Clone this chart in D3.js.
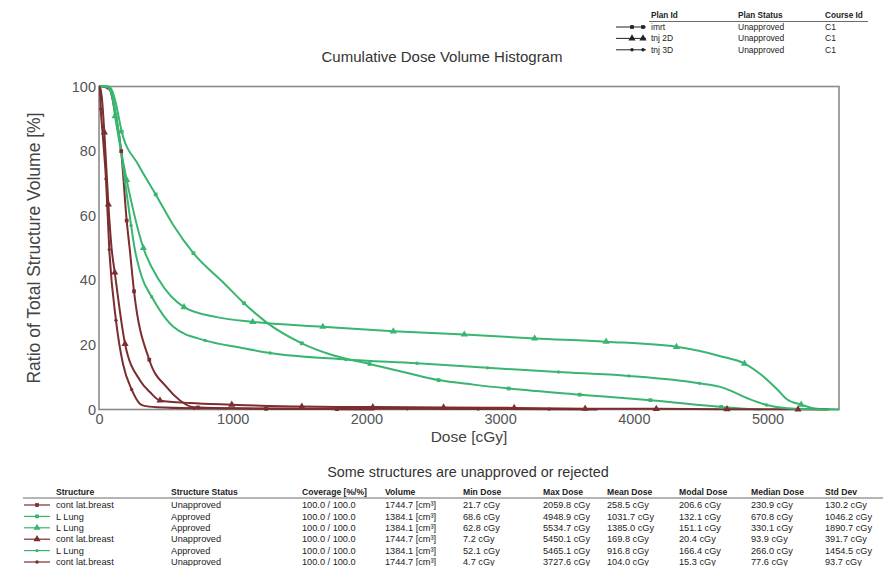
<!DOCTYPE html>
<html>
<head>
<meta charset="utf-8">
<script src="https://cdn.jsdelivr.net/npm/d3@7"></script>
<style>
  html, body { margin: 0; padding: 0; background: #fff; }
  svg { display: block; font-family: "Liberation Sans", Arial, sans-serif; }
</style>
</head>
<body>
<svg id="chart" width="883" height="566"></svg>
<script>
// ---- Cumulative DVH curves: dose [cGy] and volume [%] per structure/plan ----
const breastImrtDose = [0, 21.7, 80, 120, 166, 207, 229, 262, 376, 506, 606, 706, 1000, 1250, 1780, 2059.8];
const breastImrtVol  = [100, 100, 99, 92, 80, 58.5, 50, 36.6, 15.4, 6.9, 2.8, 0.7, 0.35, 0.2, 0.1, 0];
const breastImrtMarks = [166, 207, 262, 376, 740, 1250, 1780];

const lungImrtDose = [0, 68.6, 95, 125, 170, 294, 424, 560, 706, 930, 1085, 1255, 1517, 1750, 2023, 2300, 2540, 2800, 3064, 3595, 4124, 4653, 4800, 4948.9];
const lungImrtVol  = [100, 100, 99, 95, 86, 75.8, 66.6, 56.8, 48.4, 39.3, 32.9, 26.9, 20.5, 16.8, 14.1, 11.4, 9.1, 7.7, 6.5, 4.6, 2.9, 0.8, 0.3, 0];
const lungImrtMarks = [170, 424, 706, 1085, 1517, 2023, 2540, 3064, 3595, 4124, 4653];

const lung2dDose = [0, 62.8, 90, 120, 207, 332, 450, 636, 881, 1150, 1674, 2201, 2732, 3258, 3793, 4319, 4648, 4828, 4960, 5073, 5147, 5252, 5372, 5534.7];
const lung2dVol  = [100, 100, 99, 90.8, 71.1, 50, 40, 31.7, 28.6, 27.1, 25.6, 24.2, 23.2, 22.0, 21.0, 19.4, 16.5, 14.2, 10.5, 6.2, 3.1, 1.5, 0.2, 0];
const lung2dMarks = [120, 207, 332, 636, 1150, 1674, 2201, 2732, 3258, 3793, 4319, 4828, 5252];

const breast2dDose = [0, 7.2, 20, 40, 70, 94, 118, 195, 307, 381, 456, 681, 993, 1517, 2048, 2577, 3105, 3636, 4168, 4697, 5228, 5450.1];
const breast2dVol  = [100, 100, 97, 85.8, 63.5, 50, 42.4, 20.3, 9, 5.4, 2.8, 2.0, 1.5, 0.9, 0.75, 0.65, 0.5, 0.25, 0.2, 0.1, 0.05, 0];
const breast2dMarks = [40, 70, 118, 195, 456, 993, 1517, 2048, 2577, 3105, 3636, 4168, 4697, 5228];

const lung3dDose = [0, 52.1, 100, 140, 190, 240, 266, 320, 394, 556, 793, 1055, 1280, 1847, 2378, 2906, 3436, 3962, 4491, 4671, 4848, 4993, 5147, 5465.1];
const lung3dVol  = [100, 100, 97, 88, 72, 57, 50, 41, 34.9, 25.6, 21.4, 19.2, 17.5, 15.5, 14.3, 12.9, 11.6, 10.4, 8.1, 6.7, 3.5, 1.4, 0.4, 0];
const lung3dMarks = [240, 394, 793, 1280, 1847, 2378, 2906, 3436, 3962, 4491, 4993];

const breast3dDose = [0, 4.7, 13, 30, 52, 77, 127, 180, 244, 307, 332, 432, 711, 1242, 1773, 2305, 2836, 3367, 3727.6];
const breast3dVol  = [100, 100, 93, 84, 71.4, 49.5, 27.6, 14, 6.2, 1.7, 1.2, 0.7, 0.4, 0.3, 0.25, 0.2, 0.15, 0.1, 0];
const breast3dMarks = [13, 52, 77, 127, 244, 711, 1242, 1773, 2305, 2836, 3367];

// ---- Axis ticks ----
const doseTicks = [0, 1000, 2000, 3000, 4000, 5000];
const volumeTicks = [0, 20, 40, 60, 80, 100];
const doseMax = 5534.7;

// ---- Plan legend ----
const planHeaders = ["Plan Id", "Plan Status", "Course Id"];
const planIds = ["imrt", "tnj 2D", "tnj 3D"];
const planStatus = ["Unapproved", "Unapproved", "Unapproved"];
const planCourse = ["C1", "C1", "C1"];
const planSymbols = ["square", "triangle", "dot"];

// ---- Structure table ----
const tableHeaders = ["Structure", "Structure Status", "Coverage [%/%]", "Volume", "Min Dose", "Max Dose", "Mean Dose", "Modal Dose", "Median Dose", "Std Dev"];
const structNames  = ["cont lat.breast", "L Lung", "L Lung", "cont lat.breast", "L Lung", "cont lat.breast"];
const structStatus = ["Unapproved", "Approved", "Approved", "Unapproved", "Approved", "Unapproved"];
const coverage     = ["100.0 / 100.0", "100.0 / 100.0", "100.0 / 100.0", "100.0 / 100.0", "100.0 / 100.0", "100.0 / 100.0"];
const volumes      = ["1744.7 [cm³]", "1384.1 [cm³]", "1384.1 [cm³]", "1744.7 [cm³]", "1384.1 [cm³]", "1744.7 [cm³]"];
const minDose      = ["21.7 cGy", "68.6 cGy", "62.8 cGy", "7.2 cGy", "52.1 cGy", "4.7 cGy"];
const maxDose      = ["2059.8 cGy", "4948.9 cGy", "5534.7 cGy", "5450.1 cGy", "5465.1 cGy", "3727.6 cGy"];
const meanDose     = ["258.5 cGy", "1031.7 cGy", "1385.0 cGy", "169.8 cGy", "916.8 cGy", "104.0 cGy"];
const modalDose    = ["206.6 cGy", "132.1 cGy", "151.1 cGy", "20.4 cGy", "166.4 cGy", "15.3 cGy"];
const medianDose   = ["230.9 cGy", "670.8 cGy", "330.1 cGy", "93.9 cGy", "266.0 cGy", "77.6 cGy"];
const stdDev       = ["130.2 cGy", "1046.2 cGy", "1890.7 cGy", "391.7 cGy", "1454.5 cGy", "93.7 cGy"];

const RED = "#7b2d2f";
const GREEN = "#38b56f";

const series = [
  { dose: breastImrtDose, vol: breastImrtVol, marks: breastImrtMarks, color: RED,   symbol: "square" },
  { dose: lungImrtDose,   vol: lungImrtVol,   marks: lungImrtMarks,   color: GREEN, symbol: "square" },
  { dose: lung2dDose,     vol: lung2dVol,     marks: lung2dMarks,     color: GREEN, symbol: "triangle" },
  { dose: breast2dDose,   vol: breast2dVol,   marks: breast2dMarks,   color: RED,   symbol: "triangle" },
  { dose: lung3dDose,     vol: lung3dVol,     marks: lung3dMarks,     color: GREEN, symbol: "dot" },
  { dose: breast3dDose,   vol: breast3dVol,   marks: breast3dMarks,   color: RED,   symbol: "dot" }
];

const svg = d3.select("#chart");

const plot = { left: 99, right: 839, top: 86.5, bottom: 409.5 };
const x = d3.scaleLinear().domain([0, doseMax]).range([plot.left, plot.right]);
const y = d3.scaleLinear().domain([0, 100]).range([plot.bottom, plot.top]);

const symbolGen = {
  square: d3.symbol().type(d3.symbolSquare).size(14),
  triangle: d3.symbol().type(d3.symbolTriangle).size(22),
  dot: d3.symbol().type(d3.symbolCircle).size(9)
};

// Title
svg.append("text")
  .attr("x", 442).attr("y", 62)
  .attr("text-anchor", "middle")
  .attr("font-size", 15).attr("fill", "#333")
  .text("Cumulative Dose Volume Histogram");

// Frame
svg.append("rect")
  .attr("x", plot.left).attr("y", plot.top)
  .attr("width", plot.right - plot.left).attr("height", plot.bottom - plot.top)
  .attr("fill", "none").attr("stroke", "#8a8a8a").attr("stroke-width", 1.6);

// Axes
const yAxis = svg.append("g")
  .attr("transform", `translate(${plot.left},0)`)
  .call(d3.axisLeft(y).tickValues(volumeTicks).tickSize(0).tickPadding(3));
const xAxis = svg.append("g")
  .attr("transform", `translate(0,${plot.bottom})`)
  .call(d3.axisBottom(x).tickValues(doseTicks).tickFormat(d3.format("d")).tickSize(0).tickPadding(4));
[yAxis, xAxis].forEach(g => {
  g.select(".domain").remove();
  g.selectAll("text").attr("font-size", 14.5).attr("fill", "#555")
    .attr("font-family", "'Liberation Sans', Arial, sans-serif");
});

svg.append("text")
  .attr("transform", "translate(40,248) rotate(-90)")
  .attr("text-anchor", "middle")
  .attr("font-size", 17.5).attr("fill", "#444")
  .text("Ratio of Total Structure Volume [%]");

svg.append("text")
  .attr("x", 469).attr("y", 442)
  .attr("text-anchor", "middle")
  .attr("font-size", 15.5).attr("fill", "#444")
  .text("Dose [cGy]");

// Curves
const line = d3.line()
  .x(d => x(d[0])).y(d => y(d[1]))
  .curve(d3.curveMonotoneX);

const curveG = svg.append("g");
series.forEach(s => {
  const pts = s.dose.map((d, i) => [d, s.vol[i]]);
  curveG.append("path")
    .datum(pts)
    .attr("d", line)
    .attr("fill", "none")
    .attr("stroke", s.color)
    .attr("stroke-width", 2)
    .attr("stroke-linejoin", "round");
});

// Markers placed on each curve at the listed doses
series.forEach(s => {
  const pts = s.dose.map((d, i) => [d, s.vol[i]]);
  const path = curveG.append("path").datum(pts).attr("d", line).attr("fill", "none").attr("stroke", "none");
  const node = path.node();
  const total = node.getTotalLength();
  const locate = (dose) => {
    const tx = x(dose);
    let lo = 0, hi = total;
    for (let k = 0; k < 40; k++) {
      const mid = (lo + hi) / 2;
      if (node.getPointAtLength(mid).x < tx) lo = mid; else hi = mid;
    }
    return node.getPointAtLength((lo + hi) / 2);
  };
  s.marks.forEach(m => {
    const p = locate(m);
    curveG.append("path")
      .attr("d", symbolGen[s.symbol]())
      .attr("transform", `translate(${p.x},${p.y})`)
      .attr("fill", s.color);
  });
  path.remove();
});

// Plan legend (top right)
const legend = svg.append("g").attr("font-size", 8.5).attr("fill", "#222");
const planCols = [651, 738, 825];
planHeaders.forEach((h, i) => {
  legend.append("text").attr("x", planCols[i]).attr("y", 18)
    .attr("font-weight", "bold").attr("font-size", 8.2).text(h);
});
legend.append("line").attr("x1", 649).attr("x2", 868).attr("y1", 21.5).attr("y2", 21.5)
  .attr("stroke", "#444").attr("stroke-width", 0.8);
planIds.forEach((p, i) => {
  const yy = 27 + i * 11.4;
  legend.append("line").attr("x1", 616).attr("x2", 646).attr("y1", yy).attr("y2", yy)
    .attr("stroke", "#222").attr("stroke-width", 1);
  [632, 643].forEach(mx => {
    legend.append("path").attr("d", symbolGen[planSymbols[i]]())
      .attr("transform", `translate(${mx},${yy})`).attr("fill", "#222");
  });
  legend.append("text").attr("x", planCols[0]).attr("y", yy + 3).text(p);
  legend.append("text").attr("x", planCols[1]).attr("y", yy + 3).text(planStatus[i]);
  legend.append("text").attr("x", planCols[2]).attr("y", yy + 3).text(planCourse[i]);
});

// Approval note
svg.append("text")
  .attr("x", 468).attr("y", 477)
  .attr("text-anchor", "middle")
  .attr("font-size", 14.4).attr("fill", "#333")
  .text("Some structures are unapproved or rejected");

// Structure statistics table
const table = svg.append("g").attr("font-size", 9.2).attr("fill", "#222");
const colX = [56, 171, 302, 385, 463, 543, 607, 679, 751, 825];
tableHeaders.forEach((h, i) => {
  table.append("text").attr("x", colX[i]).attr("y", 495)
    .attr("font-weight", "bold").attr("font-size", 8.6).text(h);
});
table.append("line").attr("x1", 23).attr("x2", 883).attr("y1", 498).attr("y2", 498)
  .attr("stroke", "#444").attr("stroke-width", 0.8);
const rows = structNames.map((n, i) => [n, structStatus[i], coverage[i], volumes[i], minDose[i], maxDose[i], meanDose[i], modalDose[i], medianDose[i], stdDev[i]]);
rows.forEach((r, i) => {
  const yy = 505 + i * 11.4;
  const s = series[i];
  table.append("line").attr("x1", 24).attr("x2", 50).attr("y1", yy).attr("y2", yy)
    .attr("stroke", s.color).attr("stroke-width", 1.2);
  table.append("path").attr("d", symbolGen[s.symbol]())
    .attr("transform", `translate(37,${yy})`).attr("fill", s.color);
  r.forEach((v, j) => {
    table.append("text").attr("x", colX[j]).attr("y", yy + 3.2).text(v);
  });
});
</script>
</body>
</html>
